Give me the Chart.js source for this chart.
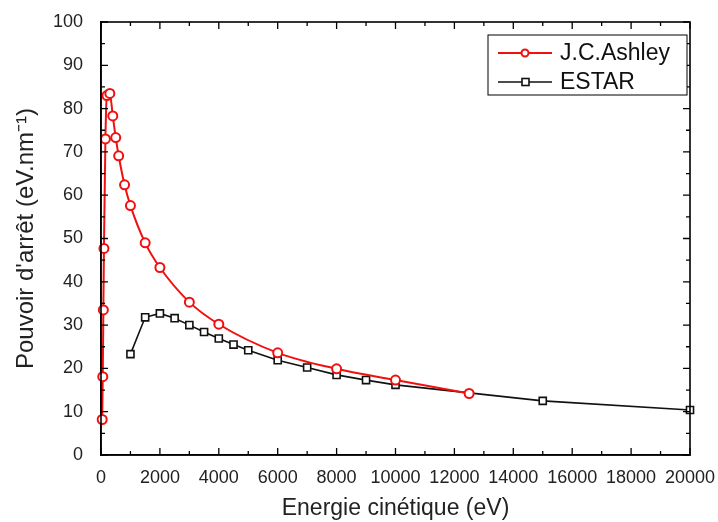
<!DOCTYPE html>
<html>
<head>
<meta charset="utf-8">
<script src="https://cdn.jsdelivr.net/npm/chart.js@4/dist/chart.umd.min.js"></script>
<style>
html,body{margin:0;padding:0;background:#fff;}
#wrap{width:718px;height:522px;position:relative;}
</style>
</head>
<body>
<div id="wrap"><canvas id="c" width="718" height="522"></canvas></div>
<script>
// Data
const energyAshley = [40, 60, 80, 100, 150, 200, 300, 400, 500, 600, 800, 1000, 1500, 2000, 3000, 4000, 6000, 8000, 10000, 12500];
const stopAshley   = [8.2, 18.1, 33.5, 47.7, 73.0, 83.0, 83.5, 78.3, 73.3, 69.1, 62.4, 57.6, 49.0, 43.3, 35.3, 30.2, 23.6, 19.9, 17.3, 14.2];
const energyEstar  = [1000, 1500, 2000, 2500, 3000, 3500, 4000, 4500, 5000, 6000, 7000, 8000, 9000, 10000, 15000, 20000];
const stopEstar    = [23.3, 31.8, 32.7, 31.6, 30.0, 28.4, 26.9, 25.5, 24.2, 21.9, 20.2, 18.5, 17.3, 16.2, 12.5, 10.4];
const seriesNames  = ['J.C.Ashley', 'ESTAR'];
const xTitle = 'Energie cinétique (eV)';
const yTitle = "Pouvoir d'arrêt (eV.nm\u207B\u00B9)";

const FONT = "'Liberation Sans', Arial, sans-serif";

function pts(xs, ys){ return xs.map((x,i)=>({x:x, y:ys[i]})); }

const framePlugin = {
  id: 'frame',
  afterDatasetsDraw(chart){
    const ctx = chart.ctx, a = chart.chartArea;
    const xs = chart.scales.x, ys = chart.scales.y;
    ctx.save();
    ctx.strokeStyle = '#000';
    ctx.lineWidth = 1.6;
    ctx.strokeRect(a.left, a.top, a.right - a.left, a.bottom - a.top);
    ctx.lineWidth = 1.3;
    ctx.beginPath();
    const xt = xs.ticks.map(t=>t.value);
    const yt = ys.ticks.map(t=>t.value);
    const drawX = (v, len) => {
      const p = xs.getPixelForValue(v);
      ctx.moveTo(p, a.bottom); ctx.lineTo(p, a.bottom - len);
      ctx.moveTo(p, a.top); ctx.lineTo(p, a.top + len);
    };
    const drawY = (v, len) => {
      const p = ys.getPixelForValue(v);
      ctx.moveTo(a.left, p); ctx.lineTo(a.left + len, p);
      ctx.moveTo(a.right, p); ctx.lineTo(a.right - len, p);
    };
    xt.forEach((v,i)=>{ drawX(v, 7); if(i < xt.length-1) drawX((v + xt[i+1])/2, 4); });
    yt.forEach((v,i)=>{ drawY(v, 7); if(i < yt.length-1) drawY((v + yt[i+1])/2, 4); });
    ctx.stroke();
    ctx.restore();
  }
};

const legendPlugin = {
  id: 'boxLegend',
  afterDraw(chart){
    const ctx = chart.ctx;
    const bx = 488, by = 35, bw = 199, bh = 60;
    ctx.save();
    ctx.fillStyle = '#fff';
    ctx.fillRect(bx, by, bw, bh);
    ctx.strokeStyle = '#000';
    ctx.lineWidth = 1;
    ctx.strokeRect(bx, by, bw, bh);
    chart.data.datasets.forEach((ds, i) => {
      const yy = by + 18 + i * 29;
      ctx.strokeStyle = ds.borderColor;
      ctx.lineWidth = ds.borderWidth;
      ctx.beginPath();
      ctx.moveTo(bx + 10, yy); ctx.lineTo(bx + 64, yy);
      ctx.stroke();
      ctx.lineWidth = ds.pointBorderWidth;
      ctx.fillStyle = '#fff';
      if (ds.pointStyle === 'rect') {
        ctx.fillRect(bx + 34, yy - 3.5, 7, 7);
        ctx.strokeRect(bx + 34, yy - 3.5, 7, 7);
      } else {
        ctx.beginPath(); ctx.arc(bx + 37, yy, 3.5, 0, Math.PI*2); ctx.fill(); ctx.stroke();
      }
      ctx.fillStyle = '#111';
      ctx.font = '23px ' + FONT;
      ctx.textBaseline = 'middle';
      ctx.textAlign = 'left';
      ctx.fillText(ds.label, bx + 72, yy + 1);
    });
    ctx.restore();
  }
};

new Chart(document.getElementById('c'), {
  type: 'scatter',
  data: {
    datasets: [
      {
        label: seriesNames[0],
        data: pts(energyAshley, stopAshley),
        showLine: true,
        borderColor: '#f01010',
        borderWidth: 2,
        backgroundColor: '#fff',
        pointBackgroundColor: '#fff',
        pointBorderColor: '#f01010',
        pointBorderWidth: 2,
        pointRadius: 4.5,
        pointStyle: 'circle',
        cubicInterpolationMode: 'monotone',
        clip: false,
        order: 1
      },
      {
        label: seriesNames[1],
        data: pts(energyEstar, stopEstar),
        showLine: true,
        borderColor: '#111',
        borderWidth: 1.6,
        backgroundColor: '#fff',
        pointBackgroundColor: '#fff',
        pointBorderColor: '#111',
        pointBorderWidth: 1.6,
        pointRadius: 5,
        pointStyle: 'rect',
        tension: 0,
        clip: false,
        order: 2
      }
    ]
  },
  options: {
    responsive: false,
    animation: false,
    devicePixelRatio: 1,
    layout: { padding: { top: 22, right: 28, left: 0, bottom: 0 } },
    plugins: {
      legend: { display: false },
      tooltip: { enabled: false }
    },
    scales: {
      x: {
        type: 'linear',
        min: 0, max: 20000,
        grid: { display: false, drawTicks: false },
        border: { display: true, color: '#000', width: 1.6 },
        ticks: { stepSize: 2000, color: '#222', font: { size: 18, family: FONT }, padding: 12, maxRotation: 0, autoSkip: false,
                 callback: v => String(v) },
        title: { display: true, text: xTitle, color: '#222', font: { size: 23, family: FONT }, padding: { top: 6, bottom: 0 } },
        afterFit(s){ s.height = 67; s.paddingLeft = 0; s.paddingRight = 0; }
      },
      y: {
        type: 'linear',
        min: 0, max: 100,
        grid: { display: false, drawTicks: false },
        border: { display: true, color: '#000', width: 1.6 },
        ticks: { stepSize: 10, color: '#222', font: { size: 18, family: FONT }, padding: 18,
                 callback: v => String(v) },
        title: { display: true, text: yTitle, color: '#222', font: { size: 24, family: FONT }, padding: { top: 12, bottom: 0 } },
        afterFit(s){ s.width = 101; s.paddingTop = 0; s.paddingBottom = 0; }
      }
    }
  },
  plugins: [framePlugin, legendPlugin]
});
</script>
</body>
</html>
